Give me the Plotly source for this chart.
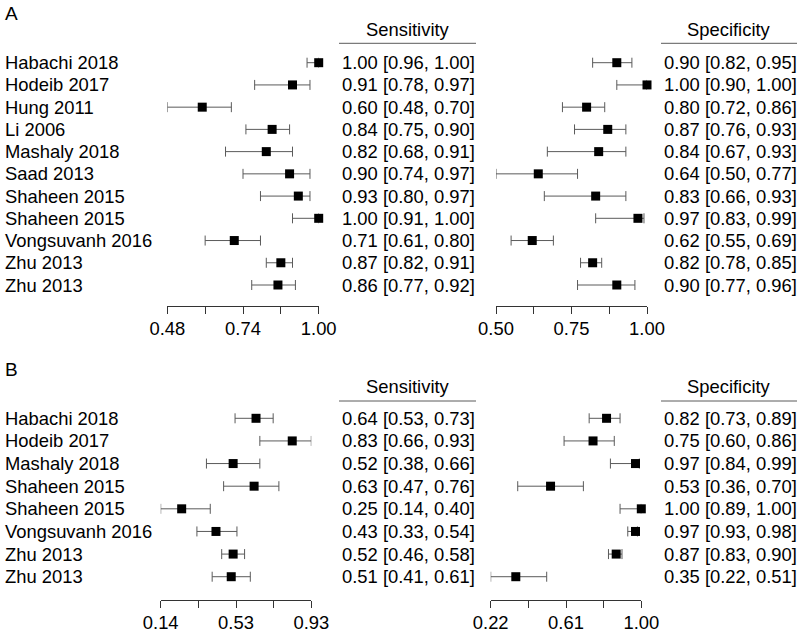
import plotly.graph_objects as go

# ---------------- data ----------------
studies_A = ["Habachi 2018", "Hodeib 2017", "Hung 2011", "Li 2006", "Mashaly 2018",
             "Saad 2013", "Shaheen 2015", "Shaheen 2015", "Vongsuvanh 2016",
             "Zhu 2013", "Zhu 2013"]
sens_A = [1.00, 0.91, 0.60, 0.84, 0.82, 0.90, 0.93, 1.00, 0.71, 0.87, 0.86]
sens_A_lo = [0.96, 0.78, 0.48, 0.75, 0.68, 0.74, 0.80, 0.91, 0.61, 0.82, 0.77]
sens_A_hi = [1.00, 0.97, 0.70, 0.90, 0.91, 0.97, 0.97, 1.00, 0.80, 0.91, 0.92]
spec_A = [0.90, 1.00, 0.80, 0.87, 0.84, 0.64, 0.83, 0.97, 0.62, 0.82, 0.90]
spec_A_lo = [0.82, 0.90, 0.72, 0.76, 0.67, 0.50, 0.66, 0.83, 0.55, 0.78, 0.77]
spec_A_hi = [0.95, 1.00, 0.86, 0.93, 0.93, 0.77, 0.93, 0.99, 0.69, 0.85, 0.96]

studies_B = ["Habachi 2018", "Hodeib 2017", "Mashaly 2018", "Shaheen 2015",
             "Shaheen 2015", "Vongsuvanh 2016", "Zhu 2013", "Zhu 2013"]
sens_B = [0.64, 0.83, 0.52, 0.63, 0.25, 0.43, 0.52, 0.51]
sens_B_lo = [0.53, 0.66, 0.38, 0.47, 0.14, 0.33, 0.46, 0.41]
sens_B_hi = [0.73, 0.93, 0.66, 0.76, 0.40, 0.54, 0.58, 0.61]
spec_B = [0.82, 0.75, 0.97, 0.53, 1.00, 0.97, 0.87, 0.35]
spec_B_lo = [0.73, 0.60, 0.84, 0.36, 0.89, 0.93, 0.83, 0.22]
spec_B_hi = [0.89, 0.86, 0.99, 0.70, 1.00, 0.98, 0.90, 0.51]

range_sens_A = [0.48, 1.00]
ticks_sens_A = [0.48, 0.61, 0.74, 0.87, 1.00]
labels_sens_A = ["0.48", "", "0.74", "", "1.00"]
range_spec_A = [0.50, 1.00]
ticks_spec_A = [0.50, 0.625, 0.75, 0.875, 1.00]
labels_spec_A = ["0.50", "", "0.75", "", "1.00"]
range_sens_B = [0.14, 0.93]
ticks_sens_B = [0.14, 0.3375, 0.535, 0.7325, 0.93]
labels_sens_B = ["0.14", "", "0.53", "", "0.93"]
range_spec_B = [0.22, 1.00]
ticks_spec_B = [0.22, 0.415, 0.61, 0.805, 1.00]
labels_spec_B = ["0.22", "", "0.61", "", "1.00"]

panel_letters = ["A", "B"]
headers = ["Sensitivity", "Specificity"]

# ---------------- layout helpers ----------------
W, H = 800, 633
FONT = "Liberation Sans, Arial, Helvetica, sans-serif"
FS = 18.4
WHISKER = "#5a5a5a"
AXIS = "#333333"


def px(x):
    return x / W


def py(y):
    return 1 - y / H


fig = go.Figure()


def forest(est, lo, hi, xa, ya):
    n = len(est)
    fig.add_trace(go.Scatter(
        x=est, y=list(range(n)), mode="markers", xaxis=xa, yaxis=ya,
        marker=dict(symbol="square", size=9, color="black", line=dict(width=0)),
        error_x=dict(type="data", symmetric=False,
                     array=[h - e for e, h in zip(est, hi)],
                     arrayminus=[e - l for e, l in zip(est, lo)],
                     color=WHISKER, thickness=1, width=5),
        cliponaxis=False, showlegend=False, hoverinfo="skip"))


forest(sens_A, sens_A_lo, sens_A_hi, "x", "y")
forest(spec_A, spec_A_lo, spec_A_hi, "x2", "y")
forest(sens_B, sens_B_lo, sens_B_hi, "x3", "y2")
forest(spec_B, spec_B_lo, spec_B_hi, "x4", "y2")


def xaxis(dom, rng, tv, tt, pos):
    return dict(domain=[px(dom[0]), px(dom[1])], range=rng, anchor="free",
                position=py(pos), showgrid=False, zeroline=False,
                showline=True, linecolor=AXIS, linewidth=1, automargin=False,
                ticks="outside", ticklen=7, tickcolor=AXIS, tickwidth=1,
                tickvals=tv, ticktext=tt, ticklabelstandoff=-1,
                tickfont=dict(family=FONT, size=FS, color="black"))


# row-pixel mapping for the two panels
A_top, A_step = 62.7, 22.23
B_top, B_step = 418.3, 22.63

fig.update_layout(
    width=W, height=H, margin=dict(l=0, r=0, t=0, b=0, pad=0, autoexpand=False),
    paper_bgcolor="white", plot_bgcolor="rgba(0,0,0,0)",
    font=dict(family=FONT, size=FS, color="black"),
    xaxis=xaxis((167.3, 318.7), range_sens_A, ticks_sens_A, labels_sens_A, 305.7),
    xaxis2=xaxis((496, 647), range_spec_A, ticks_spec_A, labels_spec_A, 305.7),
    xaxis3=xaxis((160.7, 311.3), range_sens_B, ticks_sens_B, labels_sens_B, 600),
    xaxis4=xaxis((490.7, 641.3), range_spec_B, ticks_spec_B, labels_spec_B, 600),
    yaxis=dict(domain=[0, 1], range=[(H - A_top) / A_step, -A_top / A_step],
               visible=False, anchor="x", automargin=False),
    yaxis2=dict(domain=[0, 1], range=[(H - B_top) / B_step, -B_top / B_step],
                visible=False, anchor="x3", automargin=False),
)

ann = []
shapes = []


def fmt(e, l, h):
    return f"{e:.2f} [{l:.2f}, {h:.2f}]"


def text_block(studies, se, sl, sh, pe, pl, ph, yref):
    for i, s in enumerate(studies):
        ann.append(dict(x=px(3), y=i, xref="paper", yref=yref, text=s,
                        xanchor="left", yanchor="middle", showarrow=False))
        ann.append(dict(x=px(340), y=i, xref="paper", yref=yref,
                        text=fmt(se[i], sl[i], sh[i]),
                        xanchor="left", yanchor="middle", showarrow=False))
        ann.append(dict(x=px(661.5), y=i, xref="paper", yref=yref,
                        text=fmt(pe[i], pl[i], ph[i]),
                        xanchor="left", yanchor="middle", showarrow=False))


text_block(studies_A, sens_A, sens_A_lo, sens_A_hi, spec_A, spec_A_lo, spec_A_hi, "y")
text_block(studies_B, sens_B, sens_B_lo, sens_B_hi, spec_B, spec_B_lo, spec_B_hi, "y2")

for letter, ly, hy, uy in [(panel_letters[0], 13.3, 29.3, 43.3),
                           (panel_letters[1], 369.3, 386.7, 401)]:
    ann.append(dict(x=px(3), y=py(ly), xref="paper", yref="paper", text=letter,
                    xanchor="left", yanchor="middle", showarrow=False,
                    font=dict(size=19)))
    for hdr, x0, x1 in [(headers[0], 339, 476), (headers[1], 661, 797)]:
        ann.append(dict(x=px((x0 + x1) / 2), y=py(hy), xref="paper", yref="paper",
                        text=hdr, xanchor="center", yanchor="middle",
                        showarrow=False))
        shapes.append(dict(type="line", xref="paper", yref="paper",
                           x0=px(x0), x1=px(x1), y0=py(uy), y1=py(uy),
                           line=dict(color=WHISKER, width=1)))

fig.update_layout(annotations=ann, shapes=shapes)
fig.write_html("out.html",
               config={"displayModeBar": False, "staticPlot": True},
               post_script="document.body.style.margin='0px';"
                           "document.body.style.overflow='hidden';")
